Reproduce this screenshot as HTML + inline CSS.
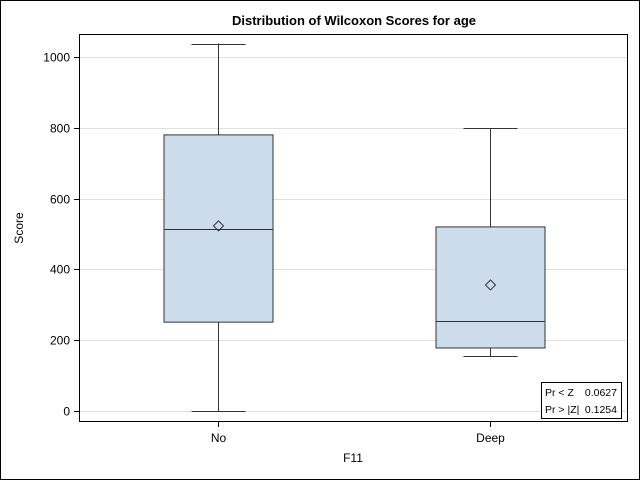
<!DOCTYPE html>
<html><head><meta charset="utf-8"><style>
body{margin:0;background:#fff}
svg{display:block;font-family:"Liberation Sans",Arial,sans-serif}
</style></head><body>
<svg id="chart" width="640" height="480">
<rect x="0.5" y="0.5" width="639" height="479" fill="#fff" stroke="#000"/>
<text x="354" y="25" text-anchor="middle" font-size="13" font-weight="bold">Distribution of Wilcoxon Scores for age</text>
<g id="grid"></g>
<g id="boxes"></g>
<rect x="79.5" y="34.5" width="548" height="387" fill="none" stroke="#000"/>
<g id="axes" font-size="12"></g>
<text x="353" y="462" text-anchor="middle" font-size="12">F11</text>
<text x="23" y="228" text-anchor="middle" font-size="12" transform="rotate(-90 23 228)">Score</text>
<g>
<rect x="541.5" y="382.5" width="80" height="36" fill="#fff" stroke="#000"/>
<text x="545" y="396" font-size="10.5">Pr &lt; Z</text><text x="617" y="396" font-size="10.5" text-anchor="end">0.0627</text>
<text x="545" y="413" font-size="10.5">Pr &gt; |Z|</text><text x="617" y="413" font-size="10.5" text-anchor="end">0.1254</text>
</g>
</svg>
<script>
const categories=["No","Deep"];
const minVals=[0,155];
const q1Vals=[251,178];
const medianVals=[514,254];
const q3Vals=[780,520];
const maxVals=[1038,799];
const meanVals=[523,356];
const yTicks=[0,200,400,600,800,1000];
const NS="http://www.w3.org/2000/svg";
const y=v=>411-v*0.354;
const x=i=>217.5+i*272.5;
function mk(t,a,p){const e=document.createElementNS(NS,t);for(const k in a)e.setAttribute(k,a[k]);p.appendChild(e);return e;}
const grid=document.getElementById('grid'),axes=document.getElementById('axes'),boxes=document.getElementById('boxes');
yTicks.forEach(v=>{const yy=Math.round(y(v))+0.5;
const g=mk('line',{x1:80,x2:627,y1:yy,y2:yy,stroke:'#e0e0e0'},grid);


const t=mk('line',{x1:74,x2:79,y1:yy,y2:yy,stroke:'#000'},axes);


const l=mk('text',{x:70,y:yy+4,'text-anchor':'end'},axes);l.textContent=v;

});
categories.forEach((c,i)=>{const cx=Math.round(x(i))+0.5;
const t=mk('line',{x1:cx,x2:cx,y1:422,y2:427,stroke:'#000'},axes);


const l=mk('text',{x:cx,y:442,'text-anchor':'middle'},axes);l.textContent=c;


const g=mk('g',{},boxes);


const hw=54.5,cw=27;
const L=(x1,y1,x2,y2)=>mk('line',{x1,y1,x2,y2,stroke:'#333'},g);
L(cx,y(maxVals[i]),cx,y(q3Vals[i]));L(cx,y(q1Vals[i]),cx,y(minVals[i]));
L(cx-cw,Math.round(y(maxVals[i]))+0.5,cx+cw,Math.round(y(maxVals[i]))+0.5);
L(cx-cw,Math.round(y(minVals[i]))+0.5,cx+cw,Math.round(y(minVals[i]))+0.5);
mk('rect',{x:cx-hw,y:y(q3Vals[i]),width:2*hw,height:y(q1Vals[i])-y(q3Vals[i]),fill:'#cddced',stroke:'#333'},g);
L(cx-hw,Math.round(y(medianVals[i]))+0.5,cx+hw,Math.round(y(medianVals[i]))+0.5);
const my=y(meanVals[i]);
mk('path',{d:`M${cx} ${my-5}L${cx+5} ${my}L${cx} ${my+5}L${cx-5} ${my}Z`,fill:'none',stroke:'#333'},g);});
</script>
</body></html>
